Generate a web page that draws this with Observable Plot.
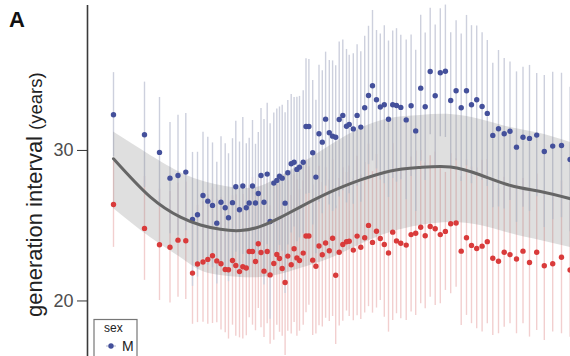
<!DOCTYPE html>
<html>
<head>
<meta charset="utf-8">
<script src="https://cdn.jsdelivr.net/npm/d3@7"></script>
<script src="https://cdn.jsdelivr.net/npm/@observablehq/plot@0.6"></script>
<style>
  html, body { margin: 0; padding: 0; background: #fff; }
  #wrap { position: relative; width: 570px; height: 356px; overflow: hidden; font-family: "Liberation Sans", Arial, sans-serif; }
  #wrap svg { display: block; }
  .overlay { position: absolute; left: 0; top: 0; pointer-events: none; }
</style>
</head>
<body>
<div id="wrap"></div>
<script>
// time position of each cohort (arbitrary units along the unlabelled x axis)
const t = [26, 57, 72, 82.5, 90.5, 98.3, 105, 110, 115.5, 120.3, 125, 129.3, 133.5, 137.7, 141, 145, 148.3, 152, 155.3, 158.8,
  161.7, 165, 168, 170.8, 173.5, 176.5, 179.7, 182.6, 186.3, 189.3, 192, 194.7, 197.6, 200.3, 203.7, 206.6, 209.4, 212, 215.7, 218.5,
  221.4, 225.2, 228.4, 231.5, 234.8, 238.1, 241.8, 245.1, 248.2, 251.7, 255.3, 259, 261.7, 265.8, 269.6, 273.3, 277.2, 281, 285, 289,
  292.8, 296.8, 301, 305.2, 309, 313.3, 318.7, 323.6, 328.2, 333.2, 337.7, 342.7, 347.7, 352.8, 357.9, 363.2, 368.6, 373.7, 379, 384,
  389.2, 394.6, 399.8, 405.3, 411, 416.7, 422.5, 429, 435.5, 442, 449.2, 456.8, 465.2, 474, 482.6];

// mean generation interval (years), males
const maleGI = [32.37, 31.04, 29.87, 28.16, 28.34, 28.56, 25.42, 25.73, 27.01, 26.63, 26.35, 25.17, 26.56, 26.19, 25.53, 26.53, 27.59, 26.06, 27.64, 26.19,
  26.51, 27.64, 26.51, 27.14, 28.34, 26.56, 28.43, 25.28, 27.83, 28.01, 28.29, 28.16, 26.50, 28.52, 29.12, 29.22, 28.74, 28.89, 29.22, 31.59,
  31.59, 29.85, 28.23, 31.11, 30.55, 32.08, 31.18, 30.95, 30.88, 32.06, 32.33, 31.61, 31.73, 31.43, 32.33, 31.55, 32.84, 33.65, 34.30, 33.37,
  32.89, 33.04, 32.07, 33.04, 32.99, 32.86, 32.03, 32.97, 31.30, 34.14, 32.90, 35.25, 33.63, 35.16, 35.26, 33.32, 33.97, 32.84, 33.97, 33.04,
  33.37, 32.92, 32.46, 31.00, 31.44, 31.11, 31.28, 30.22, 30.88, 30.80, 31.02, 29.93, 30.29, 30.33, 29.40];

// mean generation interval (years), females
const femaleGI = [26.41, 24.82, 23.73, 23.57, 24.04, 24.00, 21.85, 22.46, 22.59, 22.76, 23.00, 22.66, 22.47, 22.09, 22.07, 22.69, 22.36, 21.95, 22.27, 22.19,
  23.29, 23.29, 22.62, 23.80, 23.22, 21.98, 23.29, 21.73, 22.49, 23.09, 22.82, 22.16, 21.23, 22.98, 22.41, 23.47, 22.86, 22.69, 23.18, 24.32,
  24.32, 22.71, 22.31, 23.65, 23.07, 23.85, 23.34, 24.17, 21.71, 23.24, 23.75, 23.93, 23.97, 23.38, 24.31, 23.57, 24.20, 25.02, 23.89, 24.63,
  24.15, 23.75, 23.19, 24.57, 23.99, 23.83, 23.71, 24.41, 24.50, 24.90, 24.33, 24.95, 24.80, 24.41, 24.62, 25.13, 25.18, 23.31, 24.20, 23.69,
  23.49, 23.64, 23.94, 22.84, 22.64, 23.24, 23.08, 22.79, 23.31, 22.56, 23.24, 22.34, 22.47, 22.90, 22.06];

// half-length of each vertical range bar (years)
const maleSpread = [2.8, 3.5, 3.65, 3.7, 4.0, 3.9, 4.45, 4.15, 4.2, 4.25, 4.15, 4.05, 4.35, 4.25, 4.25, 4.25, 4.35, 4.5, 4.55, 4.25,
  4.3, 4.35, 3.9, 4.05, 4.45, 5.5, 4.7, 6.5, 4.65, 4.75, 4.6, 4.85, 6.0, 4.8, 4.6, 4.3, 4.8, 4.7, 4.75, 4.5,
  4.45, 4.8, 5.1, 4.55, 4.75, 4.45, 4.8, 5.0, 4.75, 5.15, 5.0, 5.1, 4.6, 5.0, 4.7, 5.0, 4.75, 4.6, 5.0, 4.6,
  4.85, 5.25, 5.2, 4.9, 5.1, 4.8, 5.3, 4.7, 5.35, 4.85, 4.9, 4.2, 4.7, 4.25, 4.4, 4.5, 4.65, 4.9, 5.0, 5.25,
  4.9, 4.9, 4.85, 4.8, 5.2, 5.0, 4.6, 5.0, 4.65, 4.85, 4.1, 5.05, 4.9, 4.8, 4.8];

const femaleSpread = [2.85, 3.45, 3.7, 3.7, 3.8, 3.9, 3.4, 3.9, 4.0, 4.3, 4.5, 4.1, 4.4, 4.2, 4.6, 4.3, 4.7, 4.4, 4.8, 4.5,
  4.4, 4.9, 4.6, 4.3, 5.0, 4.4, 4.8, 4.6, 5.1, 4.7, 4.9, 4.5, 4.85, 5.0, 4.6, 4.9, 5.2, 4.7, 4.8, 5.1,
  4.6, 5.0, 4.5, 5.3, 4.8, 5.0, 4.7, 5.2, 4.6, 4.9, 5.1, 4.6, 5.0, 4.7, 5.3, 4.8, 5.0, 5.4, 4.7, 5.1,
  4.12, 4.83, 5.26, 5.87, 4.84, 5.02, 5.0, 5.15, 5.47, 5.09, 4.85, 4.70, 5.10, 4.59, 3.92, 4.65, 4.27, 4.94, 5.16, 5.2,
  5.34, 5.71, 5.46, 5.14, 4.82, 4.98, 4.59, 4.97, 4.82, 4.96, 5.2, 4.96, 4.54, 5.08, 4.47];

// smooth trend and its band, read at a set of positions
const smoothT   = [26, 63, 93, 113, 133, 153, 173, 193, 213, 243, 273, 303, 333, 363, 393, 423, 453, 483];
const smoothFit = [29.45, 26.90, 25.57, 25.05, 24.76, 24.68, 24.95, 25.55, 26.25, 27.24, 28.04, 28.64, 28.87, 28.90, 28.37, 27.67, 27.27, 26.79];
const smoothHi  = [31.22, 29.67, 28.54, 28.01, 27.67, 27.48, 27.61, 28.27, 29.07, 30.33, 31.46, 32.13, 32.33, 32.39, 32.06, 31.53, 31.13, 30.53];
const smoothLo  = [26.15, 24.22, 22.89, 22.03, 21.69, 21.56, 21.56, 21.76, 22.16, 22.82, 23.75, 24.55, 25.02, 25.22, 25.02, 24.48, 24.02, 23.55];

const yTicks = [20, 30];
const sexes = ["M", "F"];

const male = t.map((x, i) => ({t: x, sex: "M", gi: maleGI[i], lo: maleGI[i] - maleSpread[i], hi: maleGI[i] + maleSpread[i]}));
const female = t.map((x, i) => ({t: x, sex: "F", gi: femaleGI[i], lo: femaleGI[i] - femaleSpread[i], hi: femaleGI[i] + femaleSpread[i]}));
const smooth = smoothT.map((x, i) => ({t: x, fit: smoothFit[i], lo: smoothLo[i], hi: smoothHi[i]}));

const colors = {M: "#44509b", F: "#d93b3b"};
const barColors = {M: "#cdd0dd", F: "#f2cfcf"};

const chart = Plot.plot({
  width: 570,
  height: 356,
  marginLeft: 87,
  marginRight: 0,
  marginTop: 5,
  marginBottom: 0,
  style: {fontFamily: "'Liberation Sans', Arial, sans-serif", background: "#fff"},
  x: {domain: [0, 483], axis: null},
  y: {domain: [16.31, 39.63], axis: null},
  marks: [
    Plot.ruleX(female, {x: "t", y1: "lo", y2: "hi", stroke: barColors.F, strokeWidth: 1.4}),
    Plot.ruleX(male, {x: "t", y1: "lo", y2: "hi", stroke: barColors.M, strokeWidth: 1.4}),
    Plot.areaY(smooth, {x: "t", y1: "lo", y2: "hi", fill: "#8a8a8a", fillOpacity: 0.27, curve: "natural"}),
    Plot.dot(male, {x: "t", y: "gi", r: 2.7, fill: colors.M, stroke: "none"}),
    Plot.dot(female, {x: "t", y: "gi", r: 2.7, fill: colors.F, stroke: "none"}),
    Plot.line(smooth, {x: "t", y: "fit", stroke: "#666666", strokeWidth: 3, curve: "natural"}),
    Plot.axisY({ticks: yTicks, tickSize: 10, tickPadding: 4, fontSize: 18, label: null, stroke: "#333", color: "#4d4d4d"}),
    Plot.ruleX([0], {stroke: "#3a3a3a", strokeWidth: 1.6})
  ]
});

const wrap = document.getElementById("wrap");
wrap.appendChild(chart);

// overlay: panel tag, y title, legend
const ov = d3.select(wrap).append("svg")
  .attr("class", "overlay")
  .attr("width", 570).attr("height", 356)
  .style("font-family", "'Liberation Sans', Arial, sans-serif");

ov.append("text").attr("x", 9).attr("y", 27)
  .attr("font-size", 22).attr("font-weight", "bold").attr("fill", "#111").text("A");

const yt = ov.append("text")
  .attr("transform", "translate(42,317) rotate(-90)")
  .attr("fill", "#222");
yt.append("tspan").attr("font-size", 22).text("generation interval ");
yt.append("tspan").attr("font-size", 18.5).text("(years)");

const lg = ov.append("g");
lg.append("rect").attr("x", 94).attr("y", 319.5).attr("width", 43).attr("height", 50)
  .attr("fill", "#fff").attr("stroke", "#777").attr("stroke-width", 1.2);
lg.append("text").attr("x", 104).attr("y", 332).attr("font-size", 12).attr("fill", "#222").text("sex");
lg.append("line").attr("x1", 106).attr("x2", 116).attr("y1", 346).attr("y2", 346)
  .attr("stroke", barColors.M).attr("stroke-width", 1.6);
lg.append("circle").attr("cx", 111).attr("cy", 346).attr("r", 2.7).attr("fill", colors.M);
lg.append("text").attr("x", 122).attr("y", 351).attr("font-size", 14).attr("fill", "#222").text(sexes[0]);
</script>
</body>
</html>
